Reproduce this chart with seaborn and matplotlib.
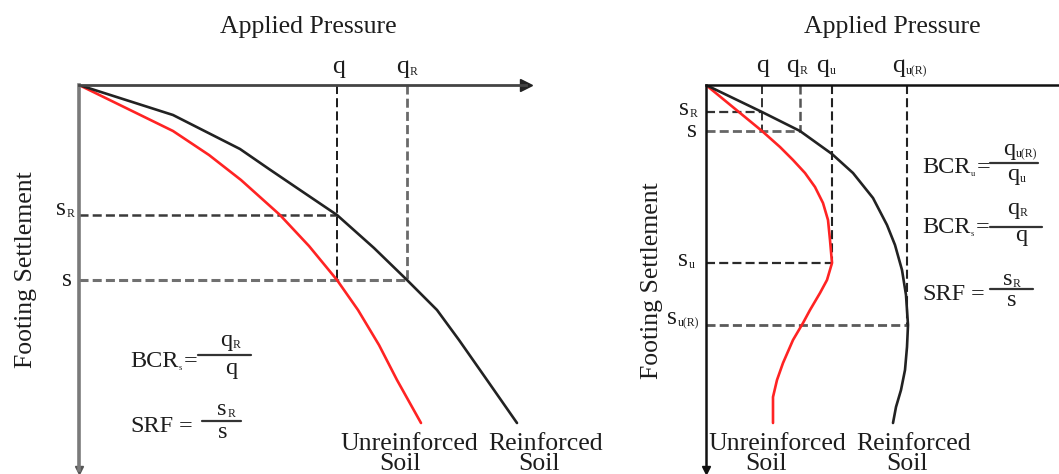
import matplotlib
matplotlib.use("Agg")
import matplotlib.pyplot as plt
import matplotlib.transforms as mtransforms
import seaborn as sns

# ---------------------------------------------------------------------------
# Left panel: comparison at the same settlement (service loads)
# pressure / settlement in drawing units measured from the origin
left_q = 258
left_q_r = 328
left_s_r = 130
left_s = 195
left_unreinforced_pressure = [0, 94, 130, 162, 201, 230, 258, 279, 300, 318, 342]
left_unreinforced_settlement = [0, 46, 70, 95, 130, 161, 195, 225, 260, 295, 338]
left_reinforced_pressure = [0, 94, 161, 190, 221, 258, 295, 328, 358, 380, 408, 438]
left_reinforced_settlement = [0, 30, 64, 84, 105, 130, 163, 195, 225, 255, 295, 338]

# Right panel: comparison at ultimate capacity
right_q = 56
right_q_r = 94
right_q_u = 126
right_q_ur = 201
right_s_r = 27
right_s = 46
right_s_u = 178
right_s_ur = 240
right_unreinforced_pressure = [0, 56, 74, 87, 99, 109, 117, 122, 124, 126, 121, 114,
                               104, 97, 87, 77, 71, 67, 67]
right_unreinforced_settlement = [0, 46, 62, 75, 88, 102, 118, 135, 155, 178, 195, 208,
                                 225, 238, 255, 278, 295, 312, 338]
right_reinforced_pressure = [0, 56, 94, 126, 147, 167, 181, 189, 196, 200, 202, 201,
                             199, 195, 190, 187]
right_reinforced_settlement = [0, 27, 46, 69, 88, 113, 140, 160, 185, 210, 240, 262,
                               285, 305, 322, 338]

# ---------------------------------------------------------------------------
sns.set_theme(style="white")
plt.rcParams["font.family"] = ["Liberation Serif", "DejaVu Serif"]
plt.rcParams["lines.scale_dashes"] = False

W, H = 1059, 474
fig = plt.figure(figsize=(W / 100, H / 100), dpi=100)
fig.patch.set_facecolor("white")
# figure pixel coordinates, origin at top-left
PX = mtransforms.Affine2D().scale(1 / W, -1 / H).translate(0, 1) + fig.transFigure

INK = "#1d1d1d"
RED = "#ff2323"
FS = 18.5
FF = 17.5          # formula text
SUB = 8.5
DASH = (0, (6.5, 3))


def panel(x0, x1, top=85, bottom=470):
    ax = fig.add_axes([x0 / W, 1 - bottom / H, (x1 - x0) / W, (bottom - top) / H])
    ax.set_xticks([])
    ax.set_yticks([])
    ax.set_facecolor("none")
    for side in ("right", "bottom"):
        ax.spines[side].set_visible(False)
    return ax


def sub_text(ax, x, y, base, sub=None, trans=None, ha="left", size=FS,
             sub_size=SUB, sub_dx=0.4, sub_dy=0.0):
    t = ax.text(x, y, base, transform=trans if trans is not None else ax.transData,
                ha=ha, va="baseline", fontsize=size, color=INK)
    a = None
    if sub:
        a = ax.annotate(sub, xy=(1, 0), xycoords=t, xytext=(sub_dx, sub_dy),
                        textcoords="offset points", ha="left", va="bottom",
                        fontsize=sub_size, color=INK, annotation_clip=False)
    return t, a


def equation_head(ax, x, y, name, sub=None, eq_gap=1.0):
    t, a = sub_text(ax, x, y, name, sub, trans=PX, size=FF, sub_size=6)
    ax.annotate("=", xy=(1, 0), xycoords=(a if a is not None else t, t),
                xytext=(eq_gap, 0), textcoords="offset points", ha="left", va="bottom",
                fontsize=FF, color=INK, annotation_clip=False)


def frac_line(x0, x1, y):
    fig.add_artist(plt.Line2D([x0, x1], [y, y], transform=PX, color="#333333", lw=1.6))


def curves(ax, up, us, rp, rs):
    sns.lineplot(x=up, y=us, ax=ax, color=RED, lw=1.9, sort=False, estimator=None)
    sns.lineplot(x=rp, y=rs, ax=ax, color="#222222", lw=1.9, sort=False, estimator=None)


# ============================ left panel ===================================
axL = panel(79, 526)
axL.spines["top"].set_color("#444444")
axL.spines["top"].set_linewidth(2.0)
axL.spines["left"].set_color("#7a7a7a")
axL.spines["left"].set_linewidth(2.6)
axL.plot(1, 1, marker=">", ms=8, color="#222222", transform=axL.transAxes, clip_on=False)
axL.plot(0, 0, marker="v", ms=6, color="#555555", transform=axL.transAxes, clip_on=False)

# reference lines
axL.plot([left_q, left_q], [0, left_s], color="#1a1a1a", lw=1.4, ls=DASH)
axL.plot([left_q_r, left_q_r], [0, left_s], color="#6a6a6a", lw=2.0, ls=DASH)
axL.plot([0, left_q], [left_s_r, left_s_r], color="#3a3a3a", lw=1.8, ls=DASH)
axL.plot([0, left_q_r], [left_s, left_s], color="#707070", lw=2.2, ls=DASH)

curves(axL, left_unreinforced_pressure, left_unreinforced_settlement,
       left_reinforced_pressure, left_reinforced_settlement)
axL.set_xlim(0, 526 - 79)
axL.set_ylim(470 - 85, 0)

xL = mtransforms.blended_transform_factory(axL.transData, PX)
yL = mtransforms.blended_transform_factory(PX, axL.transData)
sub_text(axL, left_q + 2, 73, "q", trans=xL, ha="center")
sub_text(axL, left_q_r - 4, 73, "q", "R", trans=xL, ha="center")
sub_text(axL, 66, left_s_r, "s", "R", trans=yL, ha="right")
sub_text(axL, 72, left_s + 6, "s", trans=yL, ha="right")

axL.text(308, 33, "Applied Pressure", transform=PX, ha="center", va="baseline",
         fontsize=FS, color=INK)
axL.text(26, 270, "Footing Settlement", transform=PX, ha="center", va="center",
         rotation=90, fontsize=FS, color=INK)

# ratio definitions
equation_head(axL, 130, 367, "BCR", "s")
frac_line(198, 251, 355)
sub_text(axL, 226, 346, "q", "R", trans=PX, ha="center", size=FF)
sub_text(axL, 231, 374, "q", trans=PX, ha="center", size=FF)

equation_head(axL, 130, 432, "SRF", eq_gap=4)
frac_line(202, 241, 421)
sub_text(axL, 222, 415, "s", "R", trans=PX, ha="center", size=FF)
sub_text(axL, 223, 438, "s", trans=PX, ha="center", size=FF)

# curve names
axL.text(409, 450, "Unreinforced", transform=PX, ha="center", va="baseline", fontsize=FS, color=INK)
axL.text(400, 470, "Soil", transform=PX, ha="center", va="baseline", fontsize=FS, color=INK)
axL.text(546, 450, "Reinforced", transform=PX, ha="center", va="baseline", fontsize=FS, color=INK)
axL.text(539, 470, "Soil", transform=PX, ha="center", va="baseline", fontsize=FS, color=INK)

# ============================ right panel ==================================
axR = panel(706, 1059)
for side in ("top", "left"):
    axR.spines[side].set_color("#111111")
    axR.spines[side].set_linewidth(1.8)
axR.plot(0, 0, marker="v", ms=6, color="#111111", transform=axR.transAxes, clip_on=False)

axR.plot([right_q, right_q], [0, right_s], color="#333333", lw=1.4, ls=DASH)
axR.plot([right_q_r, right_q_r], [0, right_s], color="#555555", lw=1.8, ls=DASH)
axR.plot([right_q_u, right_q_u], [0, right_s_u], color="#222222", lw=1.5, ls=DASH)
axR.plot([right_q_ur, right_q_ur], [0, right_s_ur], color="#222222", lw=1.5, ls=DASH)
axR.plot([0, right_q], [right_s_r, right_s_r], color="#333333", lw=1.6, ls=DASH)
axR.plot([0, right_q_r], [right_s, right_s], color="#666666", lw=2.0, ls=DASH)
axR.plot([0, right_q_u], [right_s_u, right_s_u], color="#2a2a2a", lw=1.6, ls=DASH)
axR.plot([0, right_q_ur], [right_s_ur, right_s_ur], color="#5a5a5a", lw=2.0, ls=DASH)

curves(axR, right_unreinforced_pressure, right_unreinforced_settlement,
       right_reinforced_pressure, right_reinforced_settlement)
axR.set_xlim(0, 1059 - 706)
axR.set_ylim(470 - 85, 0)

xR = mtransforms.blended_transform_factory(axR.transData, PX)
yR = mtransforms.blended_transform_factory(PX, axR.transData)
sub_text(axR, right_q + 1, 72, "q", trans=xR, ha="center")
sub_text(axR, right_q_r - 7, 72, "q", "R", trans=xR, ha="center")
sub_text(axR, right_q_u - 9, 72, "q", "u", trans=xR, ha="center")
sub_text(axR, right_q_ur - 8, 72, "q", "u(R)", trans=xR, ha="center")
sub_text(axR, 689, right_s_r + 3, "s", "R", trans=yR, ha="right")
sub_text(axR, 697, right_s + 6, "s", trans=yR, ha="right")
sub_text(axR, 688, right_s_u + 3, "s", "u", trans=yR, ha="right")
sub_text(axR, 677, right_s_ur - 1, "s", "u(R)", trans=yR, ha="right")

axR.text(892, 33, "Applied Pressure", transform=PX, ha="center", va="baseline",
         fontsize=FS, color=INK)
axR.text(652, 281, "Footing Settlement", transform=PX, ha="center", va="center",
         rotation=90, fontsize=FS, color=INK)

equation_head(axR, 922, 173, "BCR", "u")
frac_line(990, 1038, 163)
sub_text(axR, 1003, 155, "q", "u(R)", trans=PX, size=FF)
sub_text(axR, 1007, 180, "q", "u", trans=PX, size=FF)

equation_head(axR, 922, 233, "BCR", "s")
frac_line(990, 1042, 227)
sub_text(axR, 1007, 214, "q", "R", trans=PX, size=FF)
sub_text(axR, 1015, 241, "q", trans=PX, size=FF)

equation_head(axR, 922, 300, "SRF", eq_gap=4)
frac_line(990, 1033, 289)
sub_text(axR, 1003, 285, "s", "R", trans=PX, size=FF)
sub_text(axR, 1007, 306, "s", trans=PX, size=FF)

axR.text(777, 450, "Unreinforced", transform=PX, ha="center", va="baseline", fontsize=FS, color=INK)
axR.text(766, 470, "Soil", transform=PX, ha="center", va="baseline", fontsize=FS, color=INK)
axR.text(914, 450, "Reinforced", transform=PX, ha="center", va="baseline", fontsize=FS, color=INK)
axR.text(907, 470, "Soil", transform=PX, ha="center", va="baseline", fontsize=FS, color=INK)

fig.savefig("out.png", dpi=100, facecolor="white")
